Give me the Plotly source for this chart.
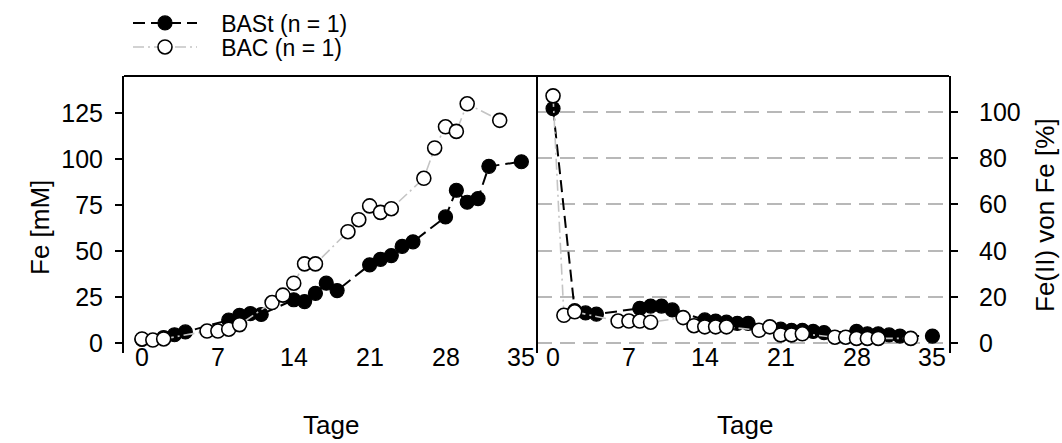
import plotly.graph_objects as go

# ---------------- data ----------------
bast_days = [0, 2, 3, 4, 8, 9, 10, 11, 14, 15, 16, 17, 18, 21, 22, 23, 24, 25, 28, 29, 30, 31, 32, 35]
bast_fe = [2, 3, 4.5, 6, 12.5, 15, 16, 15.5, 23.5, 22.5, 27, 32.5, 28.5, 42.5, 45.5, 47.5, 52.5, 55,
           68.5, 83, 76.5, 78.5, 96, 98.5]
bast_fe2 = [101.5, 14, 13, 12.5, 15, 16, 16, 14.3, 10, 9.5, 9, 8.5, 8.5, 6, 5.5, 5.5, 5, 4.5,
            5, 4, 4, 3.5, 3, 3]

bac_days = [0, 1, 2, 6, 7, 8, 9, 12, 13, 14, 15, 16, 19, 20, 21, 22, 23, 26, 27, 28, 29, 30, 33]
bac_fe = [2.2, 1.6, 2.2, 6.5, 6.5, 7.5, 10, 22, 26, 32.5, 43, 43, 60.5, 67, 74.5, 71, 73,
          89.5, 106, 117.5, 115, 130, 121]
bac_fe2 = [107, 12, 13.5, 9.5, 9.5, 9.5, 9, 11, 7.5, 7, 7, 7, 5.5, 7, 3.5, 3.5, 4, 2.5, 2.5, 2, 2, 2, 2]

x_ticks = [0, 7, 14, 21, 28, 35]
y1_ticks = [0, 25, 50, 75, 100, 125]
y2_ticks = [0, 20, 40, 60, 80, 100]

# ---------------- styles ----------------
FONT = "Arial, 'Liberation Sans', sans-serif"
BAST_LINE = dict(color="black", width=2, dash="12px,6px")
BAC_LINE = dict(color="#c4c4c4", width=1.6, dash="11px,4px,2px,4px")
BAST_MARK = dict(symbol="circle", size=14, color="black", line=dict(color="black", width=1.2))
BAC_MARK = dict(symbol="circle", size=14, color="white", line=dict(color="black", width=1.6))
PAD = "\u00a0\u00a0\u00a0"

fig = go.Figure()

fig.add_trace(go.Scatter(x=bast_days, y=bast_fe, mode="lines+markers", name=PAD + "BASt (n = 1)",
                         line=BAST_LINE, marker=BAST_MARK, xaxis="x", yaxis="y",
                         legendgroup="bast", legend="legend"))
fig.add_trace(go.Scatter(x=bac_days, y=bac_fe, mode="lines+markers", name=PAD + "BAC (n = 1)",
                         line=BAC_LINE, marker=BAC_MARK, xaxis="x", yaxis="y",
                         legendgroup="bac", legend="legend2"))
fig.add_trace(go.Scatter(x=bast_days, y=bast_fe2, mode="lines+markers", name="BASt (n = 1)",
                         line=BAST_LINE, marker=BAST_MARK, xaxis="x2", yaxis="y2",
                         legendgroup="bast", showlegend=False))
fig.add_trace(go.Scatter(x=bac_days, y=bac_fe2, mode="lines+markers", name="BAC (n = 1)",
                         line=BAC_LINE, marker=BAC_MARK, xaxis="x2", yaxis="y2",
                         legendgroup="bac", showlegend=False))

L, R, T, B = 124, 949, 76, 353
W = R - L
H = B - T
split = (537 - L) / W

axis_font = dict(family=FONT, size=25, color="black")
title_font = dict(family=FONT, size=26, color="black")
leg_font = dict(family=FONT, size=23, color="black")

legend_common = dict(xanchor="left", yanchor="middle", font=leg_font,
                     bgcolor="rgba(0,0,0,0)", itemwidth=64)

# tick labels and titles placed through the axes' own scales
annotations = []
for xa in ("x", "x2"):
    for v in x_ticks:
        annotations.append(dict(text=str(v), xref=xa, x=v, yref="paper", y=(B - 357) / H,
                                xanchor="center", yanchor="middle", showarrow=False,
                                font=axis_font))
for v in y2_ticks:
    annotations.append(dict(text=str(v), xref="paper", x=(977 - L) / W, yref="y2", y=v,
                            xanchor="left", yanchor="middle", showarrow=False,
                            font=axis_font))
annotations += [
    dict(text="Tage", xref="paper", x=(331 - L) / W, yref="paper", y=(B - 442) / H,
         xanchor="center", yanchor="bottom", showarrow=False, font=title_font),
    dict(text="Tage", xref="paper", x=(745 - L) / W, yref="paper", y=(B - 442) / H,
         xanchor="center", yanchor="bottom", showarrow=False, font=title_font),
    dict(text="Fe [mM]", textangle=-90, xref="paper", yref="paper",
         x=(40 - L) / W, y=(B - 228) / H, xanchor="center", yanchor="middle",
         showarrow=False, font=title_font),
    dict(text="Fe(II) von Fe [%]", textangle=-90, xref="paper", yref="paper",
         x=(1045 - L) / W, y=(B - 215) / H, xanchor="center", yanchor="middle",
         showarrow=False, font=title_font),
]

fig.update_layout(
    width=1062, height=443,
    margin=dict(l=L, r=1062 - R, t=T, b=443 - B, autoexpand=False),
    paper_bgcolor="white", plot_bgcolor="white",
    font=dict(family=FONT, color="black"),
    showlegend=True,
    legend=dict(x=(128 - L) / W, y=(B - 23) / H, **legend_common),
    legend2=dict(x=(128 - L) / W, y=(B - 47) / H, **legend_common),
    xaxis=dict(domain=[0, split], range=[-1.66, 36.44], tickvals=x_ticks,
               showgrid=False, zeroline=False, showline=False, ticks="",
               showticklabels=False, anchor="y"),
    xaxis2=dict(domain=[split, 1], range=[-1.48, 36.53], tickvals=x_ticks,
                showgrid=False, zeroline=False, showline=False, ticks="",
                showticklabels=False, anchor="y2"),
    yaxis=dict(range=[-5.43, 145.1], tickvals=y1_ticks, showgrid=False, zeroline=False,
               showline=True, linecolor="black", linewidth=2, ticks="outside", ticklen=7,
               tickwidth=2, tickcolor="black", tickfont=axis_font, ticklabelstandoff=7,
               anchor="x"),
    yaxis2=dict(range=[-4.33, 115.6], tickvals=y2_ticks, side="right", anchor="x2",
                showgrid=True, gridcolor="#b8b8b8", gridwidth=1.5, griddash="15px,8px",
                zeroline=False, showline=True, linecolor="black", linewidth=2,
                ticks="outside", ticklen=7, tickwidth=2, tickcolor="black",
                showticklabels=False),
    annotations=annotations,
    shapes=[
        dict(type="line", xref="paper", yref="paper", x0=0, x1=1, y0=1, y1=1,
             line=dict(color="black", width=2)),
        dict(type="line", xref="paper", yref="paper", x0=split, x1=split, y0=0, y1=1,
             line=dict(color="black", width=2)),
    ],
)

fig.write_html("out.html", config={"displayModeBar": False},
               post_script="document.body.style.margin='0';")
